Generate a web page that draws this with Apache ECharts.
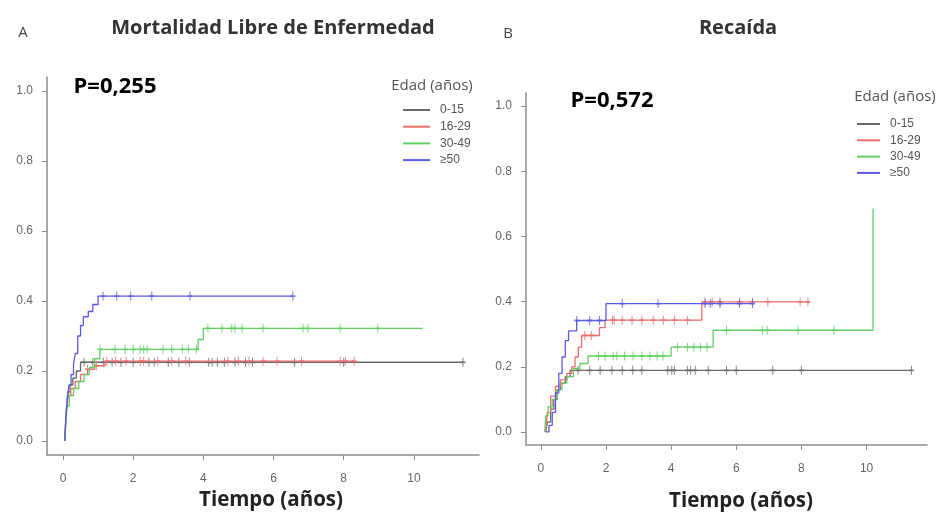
<!DOCTYPE html>
<html><head><meta charset="utf-8">
<script src="https://cdn.jsdelivr.net/npm/echarts@6/dist/echarts.min.js"></script>
<style>html,body{margin:0;padding:0;background:#fff}#c{width:940px;height:515px}</style>
</head><body><div id="c"></div>
<script>
// ---------- data ----------
const groupNames = ['0-15', '16-29', '30-49', '≥50'];
const xTicks = [0, 2, 4, 6, 8, 10];
const yTicks = [0, 0.2, 0.4, 0.6, 0.8, 1.0];

// Panel A: Mortalidad Libre de Enfermedad (step curves: time, value)
const aGreyT  = [0.05, 0.07, 0.10, 0.14, 0.20, 0.28, 0.38, 0.50, 11.4];
const aGreyV  = [0, 0.05, 0.10, 0.14, 0.16, 0.18, 0.20, 0.225, 0.225];
const aRedT   = [0.05, 0.07, 0.10, 0.15, 0.22, 0.35, 0.50, 0.70, 0.90, 1.20, 8.3];
const aRedV   = [0, 0.04, 0.09, 0.13, 0.15, 0.17, 0.19, 0.205, 0.215, 0.228, 0.228];
const aGreenT = [0.05, 0.08, 0.12, 0.18, 0.30, 0.45, 0.60, 0.75, 0.90, 1.05, 3.85, 4.0, 10.25];
const aGreenV = [0, 0.05, 0.10, 0.13, 0.15, 0.17, 0.19, 0.21, 0.235, 0.262, 0.29, 0.322, 0.322];
const aBlueT  = [0.05, 0.08, 0.12, 0.17, 0.23, 0.30, 0.35, 0.42, 0.50, 0.58, 0.72, 0.85, 1.0, 6.55];
const aBlueV  = [0, 0.06, 0.12, 0.16, 0.19, 0.22, 0.25, 0.30, 0.33, 0.355, 0.37, 0.39, 0.414, 0.414];
// censored times
const aGreyC  = [0.6, 0.85, 1.15, 1.4, 1.65, 2.0, 2.45, 2.6, 3.0, 3.3, 3.6, 4.15, 4.25, 4.4, 4.6, 4.9, 5.2, 5.4, 6.6, 8.0, 11.4];
const aRedC   = [0.7, 0.95, 1.25, 1.5, 1.8, 2.2, 2.3, 2.7, 3.1, 3.5, 4.7, 5.0, 5.3, 5.7, 6.1, 6.8, 7.9, 8.05, 8.3];
const aGreenC = [1.05, 1.48, 1.77, 2.0, 2.2, 2.3, 2.4, 2.85, 3.1, 3.4, 3.57, 3.8, 4.13, 4.53, 4.81, 4.9, 5.1, 5.7, 6.84, 6.98, 7.9, 8.97];
const aBlueC  = [1.14, 1.53, 1.93, 2.53, 3.62, 6.55];

// Panel B: Recaída
const bGreyT  = [0.15, 0.20, 0.30, 0.40, 0.50, 0.60, 0.75, 0.90, 11.38];
const bGreyV  = [0, 0.03, 0.07, 0.10, 0.13, 0.15, 0.17, 0.189, 0.189];
const bRedT   = [0.15, 0.20, 0.30, 0.45, 0.60, 0.80, 0.95, 1.05, 1.15, 1.25, 1.80, 1.97, 4.94, 8.26];
const bRedV   = [0, 0.06, 0.11, 0.14, 0.16, 0.18, 0.20, 0.23, 0.26, 0.296, 0.32, 0.343, 0.399, 0.399];
const bGreenT = [0.12, 0.15, 0.22, 0.35, 0.50, 0.65, 0.80, 1.00, 1.20, 1.45, 4.0, 5.29, 10.2];
const bGreenV = [0, 0.05, 0.077, 0.10, 0.13, 0.15, 0.17, 0.195, 0.21, 0.233, 0.26, 0.312, 0.686];
const bBlueT  = [0.15, 0.25, 0.35, 0.45, 0.55, 0.65, 0.75, 0.85, 1.10, 2.0, 6.5];
const bBlueV  = [0, 0.02, 0.06, 0.12, 0.18, 0.23, 0.28, 0.31, 0.342, 0.394, 0.394];
const bGreyC  = [1.14, 1.5, 1.82, 2.18, 2.5, 2.82, 3.1, 3.9, 4.02, 4.1, 4.5, 4.6, 4.74, 5.14, 5.7, 6.0, 7.12, 8.0, 11.38];
const bRedC   = [1.35, 1.55, 2.2, 2.25, 2.5, 2.8, 3.1, 3.45, 3.76, 4.1, 4.5, 5.04, 5.26, 5.5, 6.1, 6.5, 6.97, 7.96, 8.2];
const bGreenC = [1.77, 1.97, 2.22, 2.33, 2.57, 2.83, 3.1, 3.35, 3.57, 3.75, 4.2, 4.5, 4.7, 4.9, 5.1, 5.7, 6.8, 6.95, 7.9, 9.0];
const bBlueC  = [1.1, 1.5, 1.8, 2.5, 3.6, 5.04, 5.2, 5.5, 6.1, 6.5];

// ---------- build ----------
const colors = ['#6a6a6a', '#ef6b6b', '#62cf62', '#5a5ae4'];
const zip = (t, v) => t.map((x, i) => [x, v[i]]);
const stepAt = (t, v, x) => { let y = v[0]; for (let i = 0; i < t.length; i++) { if (t[i] <= x + 1e-9) y = v[i]; } return y; };
const plusPath = 'path://M4,0H6V4H10V6H6V10H4V6H0V4H4Z';

const panels = [
  [[aGreyT, aGreyV, aGreyC], [aRedT, aRedV, aRedC], [aGreenT, aGreenV, aGreenC], [aBlueT, aBlueV, aBlueC]],
  [[bGreyT, bGreyV, bGreyC], [bRedT, bRedV, bRedC], [bGreenT, bGreenV, bGreenC], [bBlueT, bBlueV, bBlueC]]
];
const series = [];
panels.forEach((p, pi) => {
  p.forEach((g, gi) => {
    series.push({ type: 'line', name: groupNames[gi], xAxisIndex: pi, yAxisIndex: pi, step: 'end',
      data: zip(g[0], g[1]), showSymbol: false, symbol: 'none', silent: true,
      lineStyle: { color: colors[gi], width: 1.3 }, itemStyle: { color: colors[gi] }, z: 2 + gi });
    series.push({ type: 'scatter', name: groupNames[gi], xAxisIndex: pi, yAxisIndex: pi,
      data: g[2].map(c => [c, stepAt(g[0], g[1], c)]), symbol: plusPath, symbolSize: [5, 9],
      itemStyle: { color: colors[gi] }, silent: true, z: 2 + gi });
  });
});

const axisCommon = {
  axisLine: { show: true, onZero: false, lineStyle: { color: '#8c8c8c', width: 1.5 } },
  axisTick: { show: true, length: 5, lineStyle: { color: '#8c8c8c', width: 1 } },
  splitLine: { show: false }
};
const xAx = (gi, margin) => Object.assign({}, axisCommon, {
  type: 'value', gridIndex: gi, min: -0.456, max: 11.856,
  axisTick: Object.assign({}, axisCommon.axisTick, { customValues: xTicks }),
  axisLabel: { customValues: xTicks, margin: margin, color: '#666', fontSize: 12, fontFamily: 'Liberation Sans' }
});
const yAx = (gi) => Object.assign({}, axisCommon, {
  type: 'value', gridIndex: gi, min: -0.04, max: 1.04,
  axisTick: Object.assign({}, axisCommon.axisTick, { customValues: yTicks }),
  axisLabel: { customValues: yTicks, margin: 14, color: '#666', fontSize: 12, fontFamily: 'Liberation Sans',
    formatter: v => v.toFixed(1) }
});

const legendCommon = {
  orient: 'vertical', icon: 'rect', itemHeight: 2, selectedMode: false,
  data: groupNames,
  textStyle: { fontSize: 12, color: '#555', fontFamily: 'Liberation Sans', lineHeight: 14, padding: [0, 0, 0, 5] }
};

const txt = (x, y, s, size, weight, color, align) => ({
  type: 'text', x: x, y: y, silent: true,
  style: { text: s, fontSize: size, fontWeight: weight, fill: color, fontFamily: 'Open Sans', textAlign: align || 'center', textVerticalAlign: 'middle' }
});

const chart = echarts.init(document.getElementById('c'), null, { renderer: 'canvas' });
chart.setOption({
  backgroundColor: '#fff',
  animation: false,
  grid: [
    { left: 47, top: 77, width: 432, height: 378 },
    { left: 526, top: 93, width: 401, height: 352 }
  ],
  xAxis: [xAx(0, 18), xAx(1, 18)],
  yAxis: [yAx(0), yAx(1)],
  legend: [
    Object.assign({}, legendCommon, { left: 398, top: 98, itemWidth: 27, itemGap: 2.7 }),
    Object.assign({}, legendCommon, { left: 852, top: 112, itemWidth: 23, itemGap: 2.3 })
  ],
  graphic: [
    txt(23, 33, 'A', 15, 'normal', '#444'),
    txt(273, 28, 'Mortalidad Libre de Enfermedad', 20, 'bold', '#333'),
    txt(508, 34, 'B', 15, 'normal', '#444'),
    txt(738, 28, 'Recaída', 20, 'bold', '#333'),
    txt(115, 87, 'P=0,255', 22, 'bold', '#000'),
    txt(612, 101, 'P=0,572', 22, 'bold', '#000'),
    txt(432, 86, 'Edad (años)', 15, 'normal', '#555'),
    txt(895, 97, 'Edad (años)', 15, 'normal', '#555'),
    txt(271, 500, 'Tiempo (años)', 20.5, 'bold', '#222'),
    txt(741, 501, 'Tiempo (años)', 20.5, 'bold', '#222')
  ],
  series: series
});
</script>
</body></html>
